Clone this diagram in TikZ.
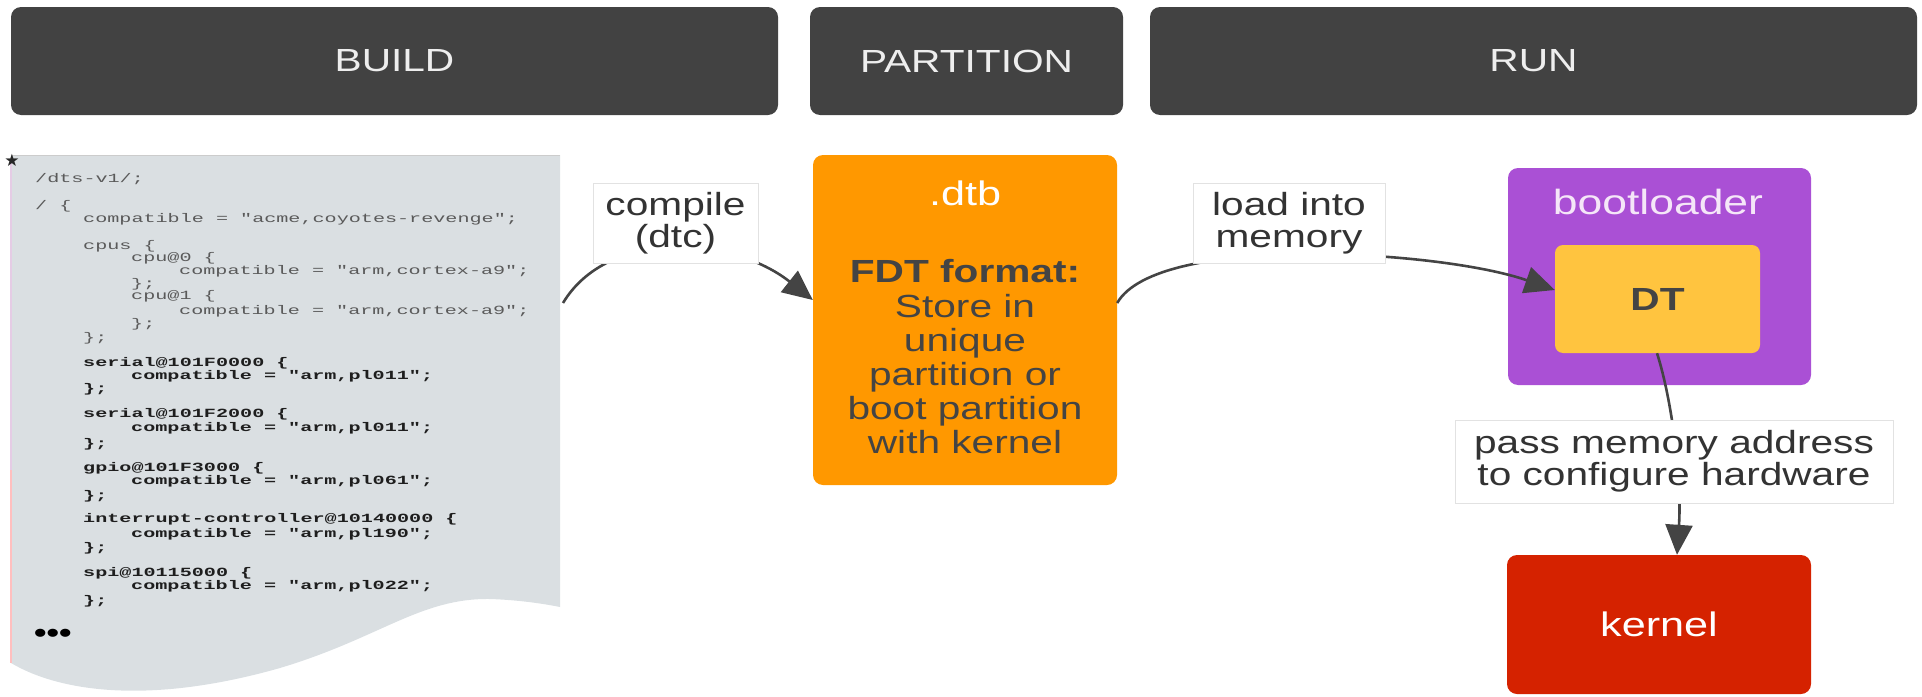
\documentclass[tikz,border=0pt]{standalone}
\usepackage{fontspec}
\setmainfont{Liberation Sans}[FakeStretch=1.27]
\newfontfamily\codefont{Liberation Mono}[FakeStretch=1.61]
\newfontfamily\symfont{DejaVu Sans}
\usetikzlibrary{arrows.meta}
\definecolor{hdr}{HTML}{424242}
\definecolor{hdrtext}{HTML}{EEEEEE}
\definecolor{codefill}{HTML}{DADFE2}
\definecolor{codegray}{HTML}{5A5A5A}
\definecolor{codedark}{HTML}{1E1E1E}
\definecolor{orangebox}{HTML}{FF9800}
\definecolor{purplebox}{HTML}{AA50D5}
\definecolor{dtyellow}{HTML}{FFC43F}
\definecolor{kernelred}{HTML}{D52200}
\definecolor{txt}{HTML}{333333}
\definecolor{darktxt}{HTML}{444444}
\definecolor{conncol}{HTML}{444444}
\definecolor{lblborder}{HTML}{E2E2E2}
\definecolor{bltext}{HTML}{F5E6F8}
\begin{document}
\begin{tikzpicture}[x=1pt,y=-1pt,
  hdrbox/.style={fill=hdr, rounded corners=10pt, text=hdrtext, inner sep=0pt,
    minimum height=108pt, font=\fontsize{32}{32}\selectfont},
  colorbox/.style={rounded corners=10pt, inner sep=0pt},
  codeline/.style={anchor=base west, inner sep=0pt, text=codegray,
    font=\codefont\fontsize{12.5}{12.5}\selectfont},
  codebold/.style={codeline, text=codedark,
    font=\codefont\bfseries\fontsize{12.5}{12.5}\selectfont},
  lbl/.style={fill=white, draw=lblborder, line width=1pt, text=txt, align=center,
    inner sep=0pt, font=\fontsize{32}{32}\selectfont},
  conn/.style={draw=conncol, line width=2.6pt},
  arr/.style={conn, -{Triangle[length=30pt,width=27pt]}}
]
\useasboundingbox (0,0) rectangle (1922,696);
% headers
\node[hdrbox, minimum width=767pt] (build) at (394.5,61) {BUILD};
\node[hdrbox, minimum width=313pt] (partition) at (966.5,61) {PARTITION};
\node[hdrbox, minimum width=767pt] (run) at (1533.5,61) {RUN};

% code sheet
\fill[codefill] (11,155) -- (560,155) -- (560,607)
  .. controls (545,604) and (520,600) .. (490,599)
  .. controls (420,598) and (380,638) .. (280,668)
  .. controls (150,705) and (60,692) .. (11,663) -- cycle;
\draw[line width=1pt, black!20] (11,155) -- (560,155);
\draw[line width=1.2pt, violet!20] (11,160) -- (11,470);
\draw[line width=1.2pt, red!25] (11,470) -- (11,663);
\node[inner sep=0pt, font=\symfont\fontsize{17}{17}\selectfont, text=black!85] (star) at (12,160) {★};

\node[codeline] (l1) at (35,182) {/dts-v1/;};
\node[codeline] (l2) at (35,209) {/ \{};
\node[codeline] (l3) at (83,222) {compatible = "acme,coyotes-revenge";};
\node[codeline] (l4) at (83,249) {cpus \{};
\node[codeline] (l5) at (131,261) {cpu@0 \{};
\node[codeline] (l6) at (179,274) {compatible = "arm,cortex-a9";};
\node[codeline] (l7) at (131,287) {\};};
\node[codeline] (l8) at (131,299) {cpu@1 \{};
\node[codeline] (l9) at (179,314) {compatible = "arm,cortex-a9";};
\node[codeline] (l10) at (131,327) {\};};
\node[codeline] (l11) at (83,341) {\};};
\node[codebold] (l12) at (83,366) {serial@101F0000 \{};
\node[codebold] (l13) at (131,379) {compatible = "arm,pl011";};
\node[codebold] (l14) at (83,392) {\};};
\node[codebold] (l15) at (83,417) {serial@101F2000 \{};
\node[codebold] (l16) at (131,431) {compatible = "arm,pl011";};
\node[codebold] (l17) at (83,447) {\};};
\node[codebold] (l18) at (83,471) {gpio@101F3000 \{};
\node[codebold] (l19) at (131,484) {compatible = "arm,pl061";};
\node[codebold] (l20) at (83,499) {\};};
\node[codebold] (l21) at (83,522) {interrupt-controller@10140000 \{};
\node[codebold] (l22) at (131,537) {compatible = "arm,pl190";};
\node[codebold] (l23) at (83,551) {\};};
\node[codebold] (l24) at (83,576) {spi@10115000 \{};
\node[codebold] (l25) at (131,589) {compatible = "arm,pl022";};
\node[codebold] (l26) at (83,604) {\};};
\node[anchor=base west, inner sep=0pt, text=black, font=\bfseries\fontsize{28}{28}\selectfont] (l27) at (34,642) {•••};
\coordinate (codeout) at (563,303);

% partition box
\node[colorbox, fill=orangebox, minimum width=304pt, minimum height=330pt] (dtb) at (965,320) {};
\node[inner sep=0pt, text=white, font=\fontsize{34}{34}\selectfont] (dtbtitle) at (965,193) {.dtb};
\node[inner sep=0pt, text=darktxt, align=center, font=\fontsize{32}{34.2}\selectfont] (dtbtext) at (965,357)
  {\textbf{FDT format:}\\Store in\\unique\\partition or\\boot partition\\with kernel};

% run side
\node[colorbox, fill=purplebox, minimum width=303pt, minimum height=217pt] (boot) at (1659.5,276.5) {};
\node[inner sep=0pt, text=bltext, font=\fontsize{35}{35}\selectfont] (boottitle) at (1658,202) {bootloader};
\node[colorbox, rounded corners=8pt, fill=dtyellow, minimum width=205pt, minimum height=108pt,
  text=darktxt, font=\bfseries\fontsize{32}{32}\selectfont] (dt) at (1657.5,299) {DT};
\node[colorbox, fill=kernelred, minimum width=304pt, minimum height=139pt,
  text=white, font=\fontsize{34}{34}\selectfont] (kernel) at (1659,624.5) {kernel};

% connectors
\draw[arr] (codeout) .. controls (608,228) and (732,236) .. ([yshift=20pt]dtb.west);
\draw[arr] ([yshift=17pt]dtb.east) .. controls (1157,233) and (1440,250) .. ([yshift=9pt]dt.west);
\draw[arr] ([xshift=-0.5pt]dt.south) .. controls (1672,400) and (1682,480) .. ([xshift=18pt]kernel.north);

% labels
\node[lbl, minimum width=165pt, minimum height=80pt] (compile) at (675.5,223) {compile\\(dtc)};
\node[lbl, minimum width=192pt, minimum height=80pt] (load) at (1289,223) {load into\\memory};
\node[lbl, minimum width=438pt, minimum height=83pt] (pass) at (1674,461.5) {pass memory address\\to configure hardware};
\end{tikzpicture}
\end{document}
